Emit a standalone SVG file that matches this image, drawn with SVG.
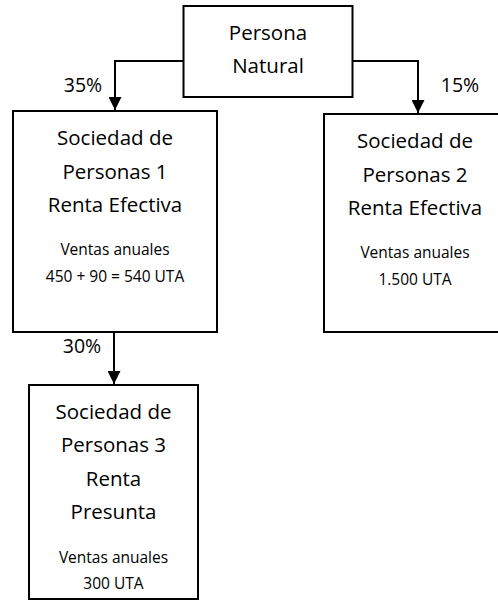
<svg xmlns="http://www.w3.org/2000/svg" width="498" height="601" viewBox="0 0 498 601">
<style>
.box{fill:#fff;stroke:#000;stroke-width:2}
.conn{fill:none;stroke:#000;stroke-width:2}
text{font-family:"Open Sans","Liberation Sans",sans-serif;fill:#000;text-anchor:middle}
.big{font-size:20.5px}
.small{font-size:15.5px}
.lbl{font-size:19.5px}
</style>
<defs>
<marker id="ah" viewBox="0 0 12 12" refX="12" refY="6" markerWidth="13" markerHeight="13" markerUnits="userSpaceOnUse" orient="auto">
<path d="M0,0 L12,6 L0,12 Z" fill="#000"/>
</marker>
</defs>
<g id="connectors">
<path class="conn" d="M183,61 H115 V110" marker-end="url(#ah)"/>
<path class="conn" d="M353,61 H418 V113" marker-end="url(#ah)"/>
<path class="conn" d="M114,332 V384" marker-end="url(#ah)"/>
<text class="lbl" x="83" y="92">35%</text>
<text class="lbl" x="460" y="92">15%</text>
<text class="lbl" x="82" y="353">30%</text>
</g>
<g id="persona-natural">
<rect class="box" x="183.5" y="6" width="169" height="91"/>
<text class="big" x="268" y="40">Persona</text>
<text class="big" x="268" y="73">Natural</text>
</g>
<g id="sociedad-1">
<rect class="box" x="13" y="111" width="204" height="221"/>
<text class="big" x="115" y="145">Sociedad de</text>
<text class="big" x="115" y="179">Personas 1</text>
<text class="big" x="115" y="212">Renta Efectiva</text>
<text class="small" x="115" y="255">Ventas anuales</text>
<text class="small" x="115" y="282">450 + 90 = 540 UTA</text>
</g>
<g id="sociedad-2">
<rect class="box" x="324" y="114" width="184" height="218"/>
<text class="big" x="415" y="148">Sociedad de</text>
<text class="big" x="415" y="182">Personas 2</text>
<text class="big" x="415" y="215">Renta Efectiva</text>
<text class="small" x="415" y="258">Ventas anuales</text>
<text class="small" x="415" y="285">1.500 UTA</text>
</g>
<g id="sociedad-3">
<rect class="box" x="29" y="385" width="169" height="214"/>
<text class="big" x="113.5" y="419">Sociedad de</text>
<text class="big" x="113.5" y="452">Personas 3</text>
<text class="big" x="113.5" y="486">Renta</text>
<text class="big" x="113.5" y="519">Presunta</text>
<text class="small" x="113.5" y="563">Ventas anuales</text>
<text class="small" x="113.5" y="589">300 UTA</text>
</g>
</svg>
